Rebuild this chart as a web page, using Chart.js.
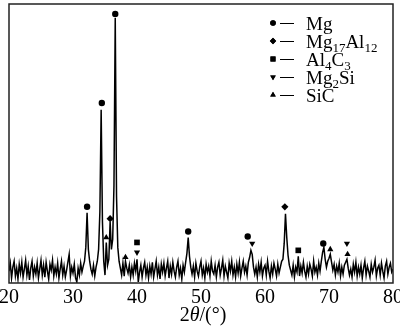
<!DOCTYPE html>
<html>
<head>
<meta charset="utf-8">
<title>XRD pattern</title>
<script src="https://cdn.jsdelivr.net/npm/chart.js@4"></script>
<style>
  html, body { margin: 0; padding: 0; background: #fff; }
  #wrap { width: 400px; height: 327px; }
</style>
</head>
<body>
<div id="wrap"><canvas id="xrd" width="400" height="327"></canvas></div>
<script>
// 2theta grid of the scan (deg)
const thetaStart = 20;
const thetaStep = 0.2;

// intensity, one value per 0.2 deg, 20..80
const intensity = [
  12, 20, 5, 16, 22, 7, 15, 4, 19, 10,      // 20
  21, 6, 14, 23, 8, 17, 3, 15, 22, 7,       // 22
  16, 9, 20, 5, 14, 23, 8, 18, 6, 21,       // 24
  12, 4, 19, 13, 23, 7, 16, 9, 20, 5,       // 26
  14, 22, 8, 17, 6, 13, 21, 29, 7, 16,      // 28
  10, 19, 5, 1, 15, 8, 20, 11, 17, 22,      // 30
  36, 71, 34, 22, 14, 9, 18, 7, 16, 22,     // 32
  34, 72, 175, 62, 22, 8, 41, 18, 24, 62,   // 34
  34, 44, 98, 268, 88, 36, 22, 15, 8, 20,   // 36
  7, 22, 15, 10, 18, 6, 16, 8, 20, 12,      // 38
  24, 1, 11, 18, 6, 15, 21, 8, 16, 5,       // 40
  17, 9, 21, 6, 14, 22, 8, 16, 4, 19,       // 42
  11, 20, 7, 15, 22, 5, 17, 9, 21, 12,      // 44
  6, 16, 22, 8, 15, 4, 18, 11, 21, 30,      // 46
  46, 27, 16, 9, 17, 6, 20, 12, 7, 16,      // 48
  22, 8, 15, 5, 19, 11, 17, 7, 22, 12,      // 50
  9, 18, 6, 16, 21, 8, 15, 23, 7, 17,       // 52
  11, 5, 20, 12, 22, 8, 16, 6, 19, 10,      // 54
  21, 7, 15, 22, 11, 17, 8, 21, 26, 33,     // 56
  29, 16, 9, 16, 6, 19, 11, 21, 7, 15,      // 58
  18, 8, 22, 12, 5, 17, 9, 20, 14, 7,       // 60
  19, 10, 16, 22, 24, 40, 70, 46, 28, 18,   // 62
  13, 8, 18, 6, 16, 11, 27, 7, 17, 10,      // 64
  21, 12, 6, 17, 9, 19, 14, 7, 22, 11,      // 66
  16, 8, 20, 12, 22, 31, 36, 24, 16, 22,    // 68
  25, 29, 21, 13, 19, 8, 17, 11, 20, 7,     // 70
  16, 9, 18, 21, 24, 15, 8, 14, 6, 19,      // 72
  11, 21, 7, 16, 9, 18, 5, 15, 22, 8,       // 74
  17, 12, 6, 19, 11, 16, 23, 7, 15, 18,     // 76
  8, 20, 12, 5, 17, 22, 9, 16, 20, 11,      // 78
  14                                        // 80
];

const xTicks = [20, 30, 40, 50, 60, 70, 80];

// phase marks: [2theta, intensity level of the symbol]
const mgMarks = [[32.2, 77], [34.5, 182], [36.6, 272], [48.0, 52], [57.3, 47], [69.1, 40]];
const mg17al12Marks = [[35.8, 65], [63.1, 77]];
const al4c3Marks = [[40.0, 41], [65.2, 33]];
const mg2siMarks = [[40.0, 31], [58.0, 40], [72.8, 40]];
const sicMarks = [[35.2, 46], [38.2, 26], [70.2, 34], [72.9, 29]];

const phaseNames = ['Mg', 'Mg_17Al_12', 'Al_4C_3', 'Mg_2Si', 'SiC'];

const serif = "'Liberation Serif', 'Times New Roman', serif";

const phases = [
  { marks: mgMarks, style: 'circle', rot: 0, r: 3.2 },
  { marks: mg17al12Marks, style: 'rectRot', rot: 0, r: 3.6 },
  { marks: al4c3Marks, style: 'rect', rot: 0, r: 4 },
  { marks: mg2siMarks, style: 'triangle', rot: 180, r: 3.6 },
  { marks: sicMarks, style: 'triangle', rot: 0, r: 3.6 }
];

const patternData = intensity.map((v, i) => ({ x: thetaStart + i * thetaStep, y: v }));

const datasets = [{
  type: 'line',
  data: patternData,
  borderColor: '#000',
  borderWidth: 1.5,
  pointRadius: 0,
  tension: 0,
  order: 2
}];
phases.forEach(p => {
  datasets.push({
    type: 'scatter',
    data: p.marks.map(m => ({ x: m[0], y: m[1] })),
    pointStyle: p.style,
    rotation: p.rot,
    pointRadius: p.r,
    backgroundColor: '#000',
    borderColor: '#000',
    borderWidth: 0,
    order: 1
  });
});

// text with _digits as subscripts
function drawRich(ctx, str, x, y, size) {
  const parts = str.split(/(_\d+)/).filter(s => s.length);
  parts.forEach(part => {
    if (part[0] === '_') {
      ctx.font = Math.round(size * 0.68) + 'px ' + serif;
      ctx.fillText(part.slice(1), x, y + size * 0.25);
      x += ctx.measureText(part.slice(1)).width;
    } else {
      ctx.font = size + 'px ' + serif;
      ctx.fillText(part, x, y);
      x += ctx.measureText(part).width;
    }
  });
}

const decorPlugin = {
  id: 'decor',
  afterDraw(chart) {
    const ctx = chart.ctx;
    const a = chart.chartArea;
    ctx.save();
    // frame
    ctx.strokeStyle = '#222';
    ctx.lineWidth = 1.5;
    ctx.strokeRect(a.left, a.top, a.right - a.left, a.bottom - a.top);

    // legend
    ctx.fillStyle = '#000';
    ctx.strokeStyle = '#000';
    ctx.textBaseline = 'alphabetic';
    ctx.textAlign = 'left';
    phases.forEach((p, i) => {
      const cy = 23 + i * 18;
      Chart.helpers.drawPoint(ctx, { pointStyle: p.style, rotation: p.rot, radius: p.r - 0.4, borderWidth: 0 }, 273, cy);
      ctx.fill();
      ctx.lineWidth = 1;
      ctx.beginPath();
      ctx.moveTo(280, cy + 0.5);
      ctx.lineTo(294, cy + 0.5);
      ctx.stroke();
      drawRich(ctx, phaseNames[i], 306, cy + 6.5, 19);
    });

    // x axis title 2θ/(°)
    const size = 20;
    ctx.font = size + 'px ' + serif;
    const w1 = ctx.measureText('2').width;
    ctx.font = 'italic ' + size + 'px ' + serif;
    const w2 = ctx.measureText('θ').width;
    ctx.font = size + 'px ' + serif;
    const w3 = ctx.measureText('/(°)').width;
    let x = 203 - (w1 + w2 + w3) / 2;
    const y = 321;
    ctx.fillText('2', x, y); x += w1;
    ctx.font = 'italic ' + size + 'px ' + serif;
    ctx.fillText('θ', x, y); x += w2;
    ctx.font = size + 'px ' + serif;
    ctx.fillText('/(°)', x, y);
    ctx.restore();
  }
};

new Chart(document.getElementById('xrd'), {
  data: { datasets },
  options: {
    responsive: false,
    animation: false,
    layout: { padding: { left: 9, right: 7, top: 1, bottom: 0 } },
    plugins: { legend: { display: false }, tooltip: { enabled: false } },
    scales: {
      x: {
        type: 'linear',
        min: 20,
        max: 80,
        grid: { display: false, drawTicks: false },
        border: { display: false },
        ticks: { color: '#000', font: { family: serif, size: 20 }, padding: 3, maxRotation: 0 },
        afterBuildTicks: s => { s.ticks = xTicks.map(v => ({ value: v })); },
        afterFit: s => { s.height = 44; s.paddingLeft = 0; s.paddingRight = 0; }
      },
      y: { display: false, min: 0, max: 282 }
    }
  },
  plugins: [decorPlugin]
});
</script>
</body>
</html>
